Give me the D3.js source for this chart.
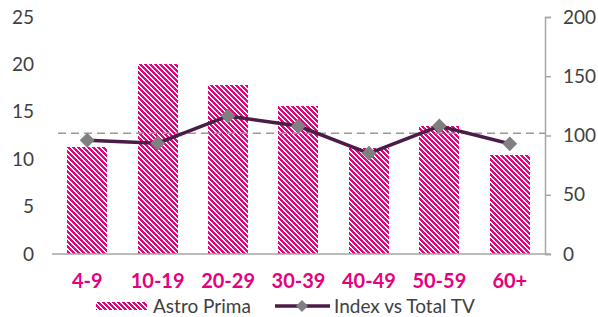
<!DOCTYPE html>
<html>
<head>
<meta charset="utf-8">
<script src="https://cdn.jsdelivr.net/npm/d3@7"></script>
<style>
  body { margin: 0; background: #fff; }
  svg { display: block; font-family: Lato, "Open Sans", sans-serif; }
</style>
</head>
<body>
<div id="chart"></div>
<script>
const categories = ["4-9", "10-19", "20-29", "30-39", "40-49", "50-59", "60+"];
const astroPrima = [11.3, 20.0, 17.8, 15.6, 11.2, 13.5, 10.4];
const indexVsTotal = [96, 93.5, 116.5, 108, 85, 108, 93];
const indexRef = 102;
const leftTicks = [0, 5, 10, 15, 20, 25];
const rightTicks = [0, 50, 100, 150, 200];

const width = 598, height = 317;
const magenta = "#e6007e";
const lineCol = "#4b1c46";
const textCol = "#404040";

const svg = d3.select("#chart")
    .append("svg")
    .attr("width", width)
    .attr("height", height);

// downward diagonal hatch built from pixel steps
const period = 5;
const pat = svg.append("defs").append("pattern")
    .attr("id", "hatch")
    .attr("patternUnits", "userSpaceOnUse")
    .attr("width", period)
    .attr("height", period);
const cells = [];
for (let j = 0; j < period; j++) {
    for (let i = 0; i < period; i++) {
        if (((i - j) % period + period) % period < 3) cells.push([i, j]);
    }
}
pat.selectAll("rect")
    .data(cells)
    .enter()
    .append("rect")
    .attr("x", d => d[0])
    .attr("y", d => d[1])
    .attr("width", 1)
    .attr("height", 1)
    .attr("fill", magenta)
    .attr("shape-rendering", "crispEdges");

const x = d3.scaleBand()
    .domain(categories)
    .range([52, 545])
    .paddingInner(0.43)
    .paddingOuter(0.215);

const y = d3.scaleLinear().domain([0, 25]).range([254, 17]);
const y2 = d3.scaleLinear().domain([0, 200]).range([254, 17]);

// left axis labels (no line)
svg.append("g")
    .selectAll("text")
    .data(leftTicks)
    .enter()
    .append("text")
    .attr("x", 34)
    .attr("y", d => y(d))
    .attr("dy", "0.35em")
    .attr("text-anchor", "end")
    .attr("fill", textCol)
    .style("font-size", "19px")
    .text(d => d);

// right axis
const right = svg.append("g")
    .attr("transform", "translate(545,0)")
    .call(d3.axisRight(y2).tickValues(rightTicks).tickSize(6).tickPadding(12));
right.select(".domain").attr("stroke", "#a6a6a6").attr("stroke-width", 1.5);
right.selectAll(".tick line").attr("stroke", "#a6a6a6").attr("stroke-width", 1.5);
right.selectAll(".tick text")
    .attr("fill", textCol)
    .style("font-size", "19px")
    .style("font-family", "Lato, sans-serif");

// bars
svg.append("g")
    .selectAll("rect")
    .data(astroPrima)
    .enter()
    .append("rect")
    .attr("x", (d, i) => Math.round(x(categories[i])))
    .attr("y", d => Math.round(y(d)))
    .attr("width", Math.round(x.bandwidth()))
    .attr("height", d => y(0) - Math.round(y(d)))
    .attr("fill", "url(#hatch)")
    .attr("shape-rendering", "crispEdges");

// baseline
svg.append("line")
    .attr("x1", 52).attr("x2", 551)
    .attr("y1", y(0)).attr("y2", y(0))
    .attr("stroke", "#a6a6a6")
    .attr("stroke-width", 1.5);

// category labels
svg.append("g")
    .selectAll("text")
    .data(categories)
    .enter()
    .append("text")
    .attr("x", d => x(d) + x.bandwidth() / 2)
    .attr("y", 288)
    .attr("text-anchor", "middle")
    .attr("fill", magenta)
    .style("font-size", "20px")
    .style("font-weight", "bold")
    .text(d => d);

// reference dashed line
svg.append("line")
    .attr("x1", 58).attr("x2", 545)
    .attr("y1", y2(indexRef)).attr("y2", y2(indexRef))
    .attr("stroke", "#999")
    .attr("stroke-width", 1.5)
    .attr("stroke-dasharray", "8,5");

// index line
const line = d3.line()
    .x((d, i) => x(categories[i]) + x.bandwidth() / 2)
    .y(d => y2(d));

svg.append("path")
    .datum(indexVsTotal)
    .attr("d", line)
    .attr("fill", "none")
    .attr("stroke", lineCol)
    .attr("stroke-width", 3.5);

const diamond = d3.symbol().type(d3.symbolDiamond2).size(140);
svg.append("g")
    .selectAll("path")
    .data(indexVsTotal)
    .enter()
    .append("path")
    .attr("transform", (d, i) => `translate(${x(categories[i]) + x.bandwidth() / 2},${y2(d)})`)
    .attr("d", diamond)
    .attr("fill", "#808080");

// legend
const legend = svg.append("g");
legend.append("rect")
    .attr("x", 96).attr("y", 302)
    .attr("width", 51).attr("height", 8)
    .attr("fill", "url(#hatch)")
    .attr("shape-rendering", "crispEdges");
legend.append("text")
    .attr("x", 153).attr("y", 313)
    .attr("fill", textCol)
    .style("font-size", "19px")
    .text("Astro Prima");
legend.append("line")
    .attr("x1", 275).attr("x2", 330)
    .attr("y1", 306).attr("y2", 306)
    .attr("stroke", lineCol)
    .attr("stroke-width", 3.5);
legend.append("path")
    .attr("transform", "translate(302,306)")
    .attr("d", d3.symbol().type(d3.symbolDiamond2).size(90))
    .attr("fill", "#808080");
legend.append("text")
    .attr("x", 334).attr("y", 313)
    .attr("fill", textCol)
    .style("font-size", "19px")
    .text("Index vs Total TV");
</script>
</body>
</html>
